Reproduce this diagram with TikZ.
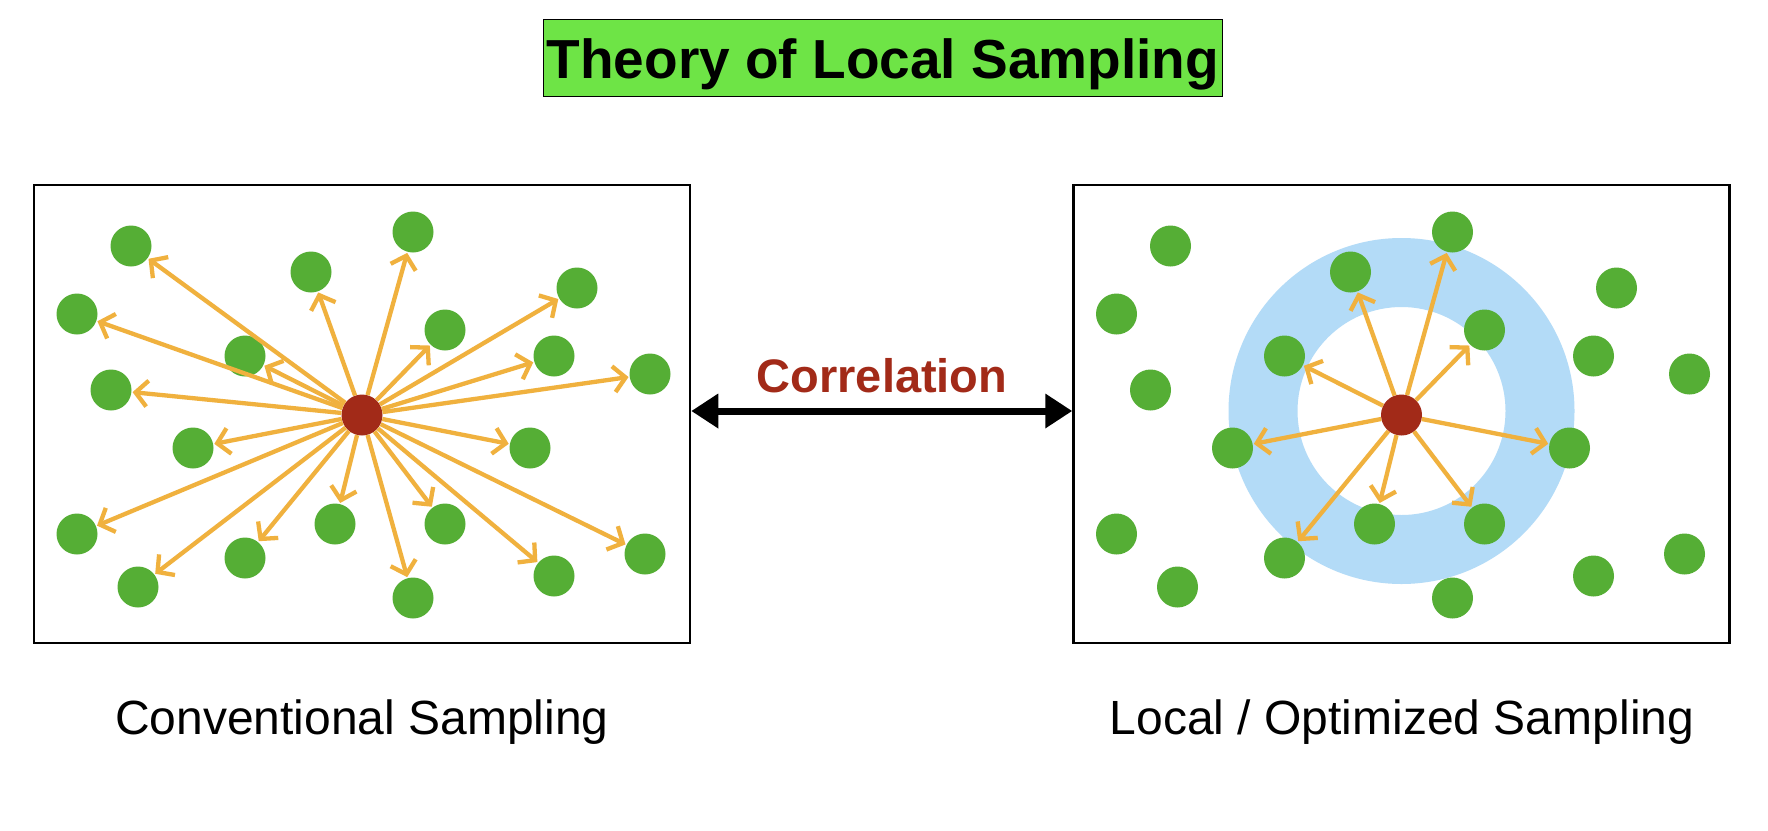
\documentclass[tikz,border=0pt]{standalone}
\usepackage{fontspec}
\setmainfont{Liberation Sans}
\usetikzlibrary{arrows.meta}
\definecolor{dotgreen}{HTML}{55AE35}
\definecolor{titlegreen}{HTML}{6EE446}
\definecolor{hubred}{HTML}{A22A18}
\definecolor{arroworange}{HTML}{F0B13E}
\definecolor{ringblue}{HTML}{B3DBF7}
\begin{document}
\begin{tikzpicture}[x=1pt,y=-1pt,
  sample/.style={circle,fill=dotgreen,inner sep=0pt,minimum size=41pt},
  hubdot/.style={circle,fill=hubred,inner sep=0pt,minimum size=41pt},
  panel/.style={draw=black,line width=2.5pt,minimum width=656pt,minimum height=458pt,inner sep=0pt},
  ray/.style={draw=arroworange,line width=4.3pt,shorten >=1pt,-{Straight Barb[length=12pt,width=26pt]}},
  corrarrow/.style={line width=7pt,{Triangle[length=27pt,width=33pt]}-{Triangle[length=27pt,width=33pt]}},
  caption/.style={anchor=base,inner sep=0pt,font=\fontsize{48}{54}\selectfont}
]
\useasboundingbox (0,0) rectangle (1768,830);
\fill[white] (0,0) rectangle (1768,830);

% title
\node[draw=black,line width=1pt,fill=titlegreen,minimum width=679pt,minimum height=77pt,inner sep=0pt,
      font=\bfseries\fontsize{55}{60}\selectfont,text height=42pt,text depth=0pt] (title) at (882.8,57.8) {Theory of Local Sampling};

% panels
\node[panel] (lbox) at (362,414) {};
\node[panel] (rbox) at (1401.5,414) {};

% ring
\fill[ringblue,even odd rule] (1401.5,411) circle[radius=173pt] (1401.5,411) circle[radius=104pt];

% sample points
\foreach \i/\dx/\dy in {1/-231/-169, 2/51/-183, 3/-51/-143, 4/215/-127, 5/-285/-101,
  6/83/-85, 7/-117/-59, 8/192/-59, 9/288/-41, 10/-251/-25,
  11/-169/33, 12/168/33, 13/-285/119, 14/-27/109, 15/83/109,
  16/-117/143, 17/283/139, 18/-224/172, 19/192/161, 20/51/183} {
  \node[sample] (gL\i) at ({362+(\dx)},{415+(\dy)}) {};
  \node[sample] (gR\i) at ({1401.5+(\dx)},{415+(\dy)}) {};
}

\node[hubdot] (hubL) at (362,415) {};
\node[hubdot] (hubR) at (1401.5,415) {};

\foreach \i in {1,...,20} \draw[ray] (hubL) -- (gL\i);
\foreach \i in {2,3,6,7,11,12,14,15,16} \draw[ray] (hubR) -- (gR\i);

% correlation
\node[anchor=base,inner sep=0pt,text=hubred,font=\bfseries\fontsize{47}{52}\selectfont] (corr) at (882,392.5) {Correlation};
\draw[corrarrow] ([yshift=3pt]lbox.east) -- ([yshift=3pt]rbox.west);

% captions
\node[caption] (capL) at (362,734.5) {Conventional Sampling};
\node[caption] (capR) at (1402,734.5) {Local / Optimized Sampling};
\end{tikzpicture}
\end{document}
